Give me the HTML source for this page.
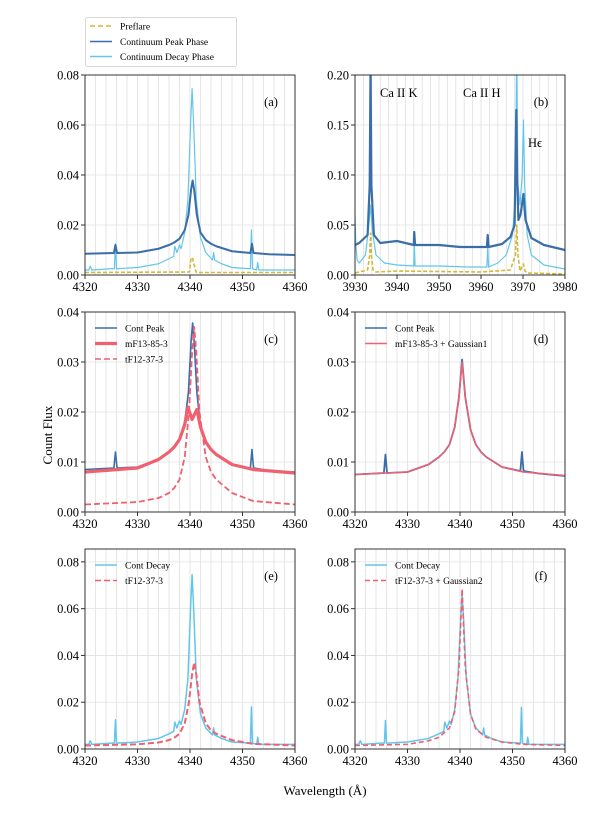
<!DOCTYPE html>
<html><head><meta charset="utf-8">
<style>
html,body{margin:0;padding:0;background:#fff;}
svg{display:block;font-family:"Liberation Serif",serif;}
</style></head>
<body>
<svg id="fig" width="600" height="825" viewBox="0 0 600 825" xmlns="http://www.w3.org/2000/svg">
<defs></defs>
<g id="legend">
<rect x="85.5" y="17.5" width="151" height="49" fill="#fff" stroke="#ccc" stroke-width="0.8" rx="2"/>
<line x1="90" y1="26" x2="112" y2="26" stroke="#d4b83a" stroke-width="1.6" stroke-dasharray="5,3"/>
<text x="120" y="29.5" font-size="9.5">Preflare</text>
<line x1="90" y1="41.5" x2="112" y2="41.5" stroke="#3b6ea8" stroke-width="1.6"/>
<text x="120" y="45" font-size="9.5">Continuum Peak Phase</text>
<line x1="90" y1="56.5" x2="112" y2="56.5" stroke="#62c6ea" stroke-width="1.6"/>
<text x="120" y="60" font-size="9.5">Continuum Decay Phase</text>
</g>
<text x="52" y="435" font-size="13" text-anchor="middle" transform="rotate(-90 52 435)">Count Flux</text>
<text x="325" y="795" font-size="13" text-anchor="middle">Wavelength (Å)</text>
</svg>
<script>
// ---- data ----
const peakWl=[4320,4325.5,4325.8,4326.1,4330,4334,4336,4337,4338,4339,4339.7,4340.2,4340.5,4340.8,4341.3,4342,4343,4344,4345,4348,4351.5,4351.8,4352.1,4355,4360];
const peakFlux=[0.0085,0.0088,0.012,0.0088,0.009,0.0105,0.012,0.013,0.0145,0.018,0.024,0.034,0.0378,0.034,0.024,0.017,0.014,0.0125,0.0115,0.0095,0.0088,0.0125,0.0088,0.0083,0.008];
const decayWl=[4320,4320.7,4321,4321.3,4325,4325.6,4325.8,4326.0,4330,4334,4336,4336.9,4337.1,4337.5,4338,4338.3,4339,4339.6,4340.1,4340.4,4340.7,4341.2,4342,4343,4344.3,4344.5,4344.7,4346,4348,4351.5,4351.7,4351.9,4352.7,4352.9,4353.1,4356,4360];
const decayFlux=[0.002,0.002,0.0035,0.002,0.0025,0.0025,0.0125,0.0025,0.003,0.0045,0.0065,0.0075,0.0115,0.009,0.012,0.0105,0.017,0.03,0.06,0.0745,0.06,0.03,0.015,0.009,0.006,0.009,0.006,0.0045,0.003,0.0025,0.018,0.0025,0.002,0.005,0.002,0.002,0.002];
const preWl=[4320,4339.9,4340.2,4340.5,4340.8,4341.2,4360];
const preFlux=[0.001,0.0012,0.007,0.0065,0.004,0.001,0.001];
const peakBWl=[3930,3931,3933,3933.5,3933.7,3933.9,3934.5,3936,3940,3944,3944.1,3944.3,3950,3955,3961.4,3961.6,3961.8,3965,3967,3968,3968.4,3968.6,3968.9,3969.4,3970.1,3970.6,3972,3975,3980];
const peakBFlux=[0.03,0.032,0.04,0.09,0.21,0.09,0.04,0.032,0.034,0.03,0.043,0.03,0.03,0.028,0.028,0.04,0.028,0.031,0.038,0.05,0.165,0.1,0.055,0.06,0.081,0.055,0.037,0.03,0.025];
const decayBWl=[3930,3930.2,3930.5,3931,3932.5,3933.3,3933.7,3934.1,3935,3937,3940,3944,3944.1,3944.3,3950,3957,3961.4,3961.6,3961.8,3964,3966,3967.5,3968.2,3968.5,3968.8,3969.3,3969.8,3970.1,3970.4,3971,3972,3975,3980];
const decayBFlux=[0.06,0.03,0.015,0.012,0.02,0.05,0.07,0.045,0.02,0.012,0.01,0.009,0.035,0.009,0.009,0.008,0.008,0.03,0.008,0.012,0.02,0.04,0.08,0.23,0.09,0.07,0.1,0.155,0.09,0.04,0.02,0.01,0.006];
const preBWl=[3930,3933,3933.5,3933.7,3933.9,3934.3,3935,3940,3960,3967,3968.2,3968.5,3968.8,3969.3,3970.1,3970.5,3971,3980];
const preBFlux=[0.002,0.005,0.02,0.042,0.02,0.005,0.003,0.004,0.003,0.005,0.02,0.05,0.02,0.004,0.011,0.004,0.002,0.001];
const mfWl=[4320,4330,4334,4336,4337,4338,4339,4339.6,4340.4,4341.3,4342,4343,4344,4345,4348,4352,4360];
const mfFlux=[0.008,0.0088,0.0105,0.012,0.013,0.0145,0.0175,0.021,0.0185,0.0205,0.017,0.014,0.0125,0.0115,0.0095,0.0085,0.0078];
const tfWl=[4320,4330,4334,4336,4337,4338,4339,4339.8,4340.4,4340.8,4341.2,4341.8,4343,4344,4345,4348,4352,4360];
const tfFlux=[0.0015,0.002,0.0028,0.0038,0.0048,0.0065,0.011,0.02,0.032,0.037,0.032,0.02,0.011,0.008,0.0065,0.0038,0.0022,0.0015];
const peakDWl=[4320,4325.5,4325.8,4326.1,4330,4334,4336,4337,4338,4339,4339.8,4340.4,4341,4342,4343,4344,4345,4348,4351.5,4351.8,4352.1,4355,4360];
const peakDFlux=[0.0075,0.0078,0.0115,0.0078,0.008,0.0095,0.011,0.012,0.0135,0.017,0.023,0.0305,0.023,0.0165,0.0135,0.012,0.011,0.009,0.0082,0.012,0.0082,0.0077,0.0072];
const fitDWl=[4320,4330,4334,4336,4337,4338,4339,4339.8,4340.4,4341,4342,4343,4344,4345,4348,4352,4360];
const fitDFlux=[0.0075,0.008,0.0095,0.011,0.012,0.0135,0.017,0.023,0.030,0.023,0.0165,0.0135,0.012,0.011,0.009,0.008,0.0073];
const decayFWl=decayWl;
const decayFFlux=[0.002,0.002,0.0035,0.002,0.0025,0.0025,0.0122,0.0025,0.003,0.0045,0.0065,0.0075,0.0115,0.009,0.012,0.0105,0.017,0.03,0.055,0.066,0.055,0.03,0.015,0.009,0.006,0.009,0.006,0.0045,0.003,0.0025,0.0178,0.0025,0.002,0.005,0.002,0.002,0.002];
const fitFWl=[4320,4330,4334,4336,4338,4339,4339.8,4340.4,4341,4342,4343,4345,4348,4352,4360];
const fitFFlux=[0.0015,0.002,0.0035,0.005,0.009,0.016,0.035,0.0685,0.035,0.015,0.0085,0.005,0.003,0.002,0.0015];
const hTicks=[4320,4330,4340,4350,4360];
const bTicks=[3930,3940,3950,3960,3970,3980];

const svg=document.getElementById('fig');
const NS='http://www.w3.org/2000/svg';
const C={pk:'#3b6ea8',dc:'#62c6ea',pre:'#d4b83a',red:'#f0606f'};
function mk(tag,attrs,parent){const e=document.createElementNS(NS,tag);for(const k in attrs)e.setAttribute(k,attrs[k]);(parent||svg).appendChild(e);return e;}

function panel(o){
  const g=mk('g',{});
  
  
  const X=v=>o.x+(v-o.x0)/(o.x1-o.x0)*o.w;
  const Y=v=>o.y+o.h-(v-o.y0)/(o.y1-o.y0)*o.h;
  for(let v=o.x0;v<=o.x1+1e-9;v+=2){mk('line',{x1:X(v),x2:X(v),y1:o.y,y2:o.y+o.h,stroke:'#e0e0e0','stroke-width':0.8},g);}
  o.yt.forEach(v=>mk('line',{x1:o.x,x2:o.x+o.w,y1:Y(v),y2:Y(v),stroke:'#e0e0e0','stroke-width':0.8},g));
  const cid='clip-'+o.id;
  const cp=mk('clipPath',{id:cid},svg.querySelector('defs'));
  mk('rect',{x:o.x,y:o.y,width:o.w,height:o.h},cp);
  const sg=mk('g',{'clip-path':'url(#'+cid+')'},g);
  o.series.forEach(s=>{
    const pts=s.wl.map((w,i)=>X(w).toFixed(2)+','+Y(s.f[i]).toFixed(2)).join(' ');
    const p=mk('polyline',{points:pts,fill:'none',stroke:s.c,'stroke-width':s.sw||1.4,'stroke-linejoin':'round'},sg);
    if(s.dash)p.setAttribute('stroke-dasharray',s.dash);
    
    
  });
  mk('rect',{x:o.x,y:o.y,width:o.w,height:o.h,fill:'none',stroke:'#333','stroke-width':1},g);
  o.xt.forEach(v=>{mk('line',{x1:X(v),x2:X(v),y1:o.y+o.h,y2:o.y+o.h+4,stroke:'#333'},g);
    const t=mk('text',{x:X(v),y:o.y+o.h+16,'font-size':12.5,'text-anchor':'middle'},g);t.textContent=v;
    
    });
  o.yt.forEach(v=>{mk('line',{x1:o.x-4,x2:o.x,y1:Y(v),y2:Y(v),stroke:'#333'},g);
    const t=mk('text',{x:o.x-6,y:Y(v)+4.5,'font-size':12.5,'text-anchor':'end'},g);t.textContent=v.toFixed(o.yd);
    
    });
  const lb=mk('text',{x:o.x+o.w-24,y:o.y+31,'font-size':12.5,'text-anchor':'middle'},g);lb.textContent='('+o.id+')';
  
  
  if(o.legend){o.legend.forEach((e,i)=>{const yy=o.y+16+i*15.5;
    const l=mk('line',{x1:o.x+10,x2:o.x+32,y1:yy,y2:yy,stroke:e.c,'stroke-width':e.sw||1.6},g);
    if(e.dash)l.setAttribute('stroke-dasharray',e.dash);
    const t=mk('text',{x:o.x+40,y:yy+3.5,'font-size':9.5},g);t.textContent=e.t;
    
    });}
  if(o.notes)o.notes.forEach(n=>{const t=mk('text',{x:n[0],y:n[1],'font-size':12.5},g);t.textContent=n[2];
    
    });
  return g;
}
const L=85,R=355,W=210,H=200;
panel({id:'a',x:L,y:75,w:W,h:H,x0:4320,x1:4360,y0:0,y1:0.08,xt:hTicks,yt:[0,0.02,0.04,0.06,0.08],yd:2,
 series:[{wl:preWl,f:preFlux,c:C.pre,dash:'4,2',sw:1.6,name:'preflare-line'},{wl:decayWl,f:decayFlux,c:C.dc,sw:1.2,name:'decay-line'},{wl:peakWl,f:peakFlux,c:C.pk,sw:2,name:'peak-line'}]});
panel({id:'b',x:R,y:75,w:W,h:H,x0:3930,x1:3980,y0:0,y1:0.2,xt:bTicks,yt:[0,0.05,0.1,0.15,0.2],yd:2,
 series:[{wl:preBWl,f:preBFlux,c:C.pre,dash:'4,2',sw:1.6,name:'preflare-line'},{wl:decayBWl,f:decayBFlux,c:C.dc,sw:1.2,name:'decay-line'},{wl:peakBWl,f:peakBFlux,c:C.pk,sw:2.2,name:'peak-line'}],
 notes:[[380,97,'Ca II K'],[463,97,'Ca II H'],[528,147,'H\u03f5']]});
panel({id:'c',x:L,y:312,w:W,h:H,x0:4320,x1:4360,y0:0,y1:0.04,xt:hTicks,yt:[0,0.01,0.02,0.03,0.04],yd:2,
 series:[{wl:peakWl,f:peakFlux,c:C.pk,sw:1.6,name:'cont-peak-line'},{wl:mfWl,f:mfFlux,c:C.red,sw:3.2,name:'mf13-line'},{wl:tfWl,f:tfFlux,c:C.red,sw:1.8,dash:'6,3',name:'tf12-line'}],
 legend:[{t:'Cont Peak',c:C.pk},{t:'mF13-85-3',c:C.red,sw:3.2},{t:'tF12-37-3',c:C.red,dash:'6,3'}]});
panel({id:'d',x:R,y:312,w:W,h:H,x0:4320,x1:4360,y0:0,y1:0.04,xt:hTicks,yt:[0,0.01,0.02,0.03,0.04],yd:2,
 series:[{wl:peakDWl,f:peakDFlux,c:C.pk,sw:1.8,name:'cont-peak-line'},{wl:fitDWl,f:fitDFlux,c:C.red,sw:1.5,name:'fit-line'}],
 legend:[{t:'Cont Peak',c:C.pk},{t:'mF13-85-3 + Gaussian1',c:C.red}]});
panel({id:'e',x:L,y:549,w:W,h:H,x0:4320,x1:4360,y0:0,y1:0.0855,xt:hTicks,yt:[0,0.02,0.04,0.06,0.08],yd:2,
 series:[{wl:decayWl,f:decayFlux,c:C.dc,sw:1.5,name:'cont-decay-line'},{wl:tfWl,f:tfFlux,c:C.red,sw:2,dash:'6,3',name:'tf12-line'}],
 legend:[{t:'Cont Decay',c:C.dc},{t:'tF12-37-3',c:C.red,dash:'6,3'}]});
panel({id:'f',x:R,y:549,w:W,h:H,x0:4320,x1:4360,y0:0,y1:0.0855,xt:hTicks,yt:[0,0.02,0.04,0.06,0.08],yd:2,
 series:[{wl:decayFWl,f:decayFFlux,c:C.dc,sw:1.5,name:'cont-decay-line'},{wl:fitFWl,f:fitFFlux,c:C.red,sw:1.6,dash:'5,3',name:'fit-line'}],
 legend:[{t:'Cont Decay',c:C.dc},{t:'tF12-37-3 + Gaussian2',c:C.red,dash:'5,3'}]});
</script>
</body></html>
